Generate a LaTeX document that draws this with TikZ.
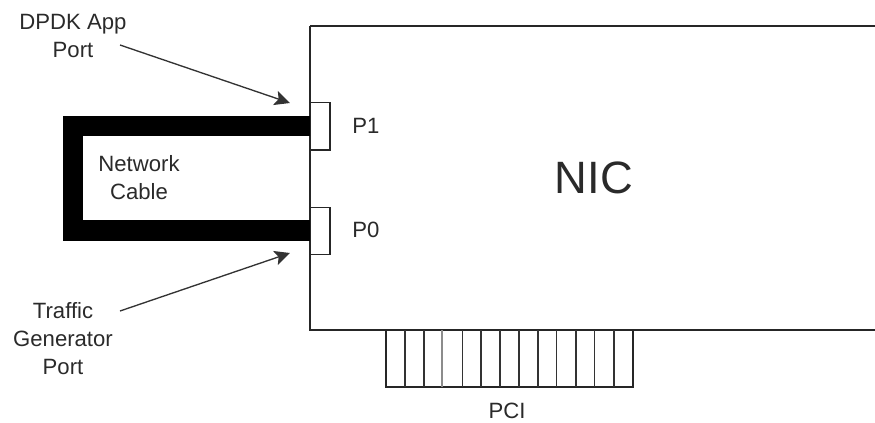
\documentclass[tikz,border=0pt]{standalone}
\usepackage{fontspec}
\setmainfont{Liberation Sans}
\usetikzlibrary{arrows.meta}
\definecolor{lbl}{HTML}{2A2A2A}
\tikzset{
  x=0.75pt,y=-0.75pt,
  box/.style={draw=black!85,line width=0.9pt,fill=white,inner sep=0pt,minimum width=0pt},
  cable/.style={draw=black,line width=15.4pt,line join=miter},
  pin/.style={draw=black!80,line width=0.9pt},
  pinpale/.style={draw=black!45,line width=1.1pt},
  note/.style={text=lbl,font=\fontsize{16.6}{21}\selectfont,align=center,inner sep=0pt},
  pointer/.style={draw=black!80,line width=1pt,-{Stealth[length=11.5pt,width=11pt,inset=2.5pt]}}
}
\begin{document}
\begin{tikzpicture}
\useasboundingbox (0,0) rectangle (875,422);
\draw[box] (310,26) -- (875,26) (310,26) -- (310,330) -- (875,330);
\node[note,font=\fontsize{34}{40}\selectfont] (nic) at (594,178) {NIC};
% PCI connector
\draw[box] (386,330) rectangle (633,387);
\foreach \x in {405,424,462.3,481,500,519,538,556.7,576,594.7,614}
  \draw[pin] (\x,330) -- (\x,387);
\draw[pinpale] (442,330) -- (442,387);
\node[note] (pci) at (507,410.5) {PCI};
% Ports
\node[box,minimum width=14.6pt,minimum height=35.5pt,anchor=north west] (p1) at (310,102) {};
\node[box,minimum width=14.6pt,minimum height=35pt,anchor=north west] (p0) at (310,207) {};
\node[note] (p1l) at (366,126) {P1};
\node[note] (p0l) at (366,230) {P0};
% Cable
\coordinate (c1) at (73,126);
\coordinate (c0) at (73,230.5);
\draw[cable] (310,126) -- (c1) -- (c0) -- (310,230.5);
\node[note] (net) at (139,177.5) {Network\\Cable};
% Labels and arrows
\node[note] (dpdk) at (73,36) {DPDK App\\Port};
\node[note] (tg) at (63,339) {Traffic\\Generator\\Port};
\coordinate (a1) at (120,45);
\coordinate (b1) at (290,103);
\coordinate (a0) at (120,311);
\coordinate (b0) at (290,253);
\draw[pointer] (a1) -- (b1);
\draw[pointer] (a0) -- (b0);
\end{tikzpicture}
\end{document}
